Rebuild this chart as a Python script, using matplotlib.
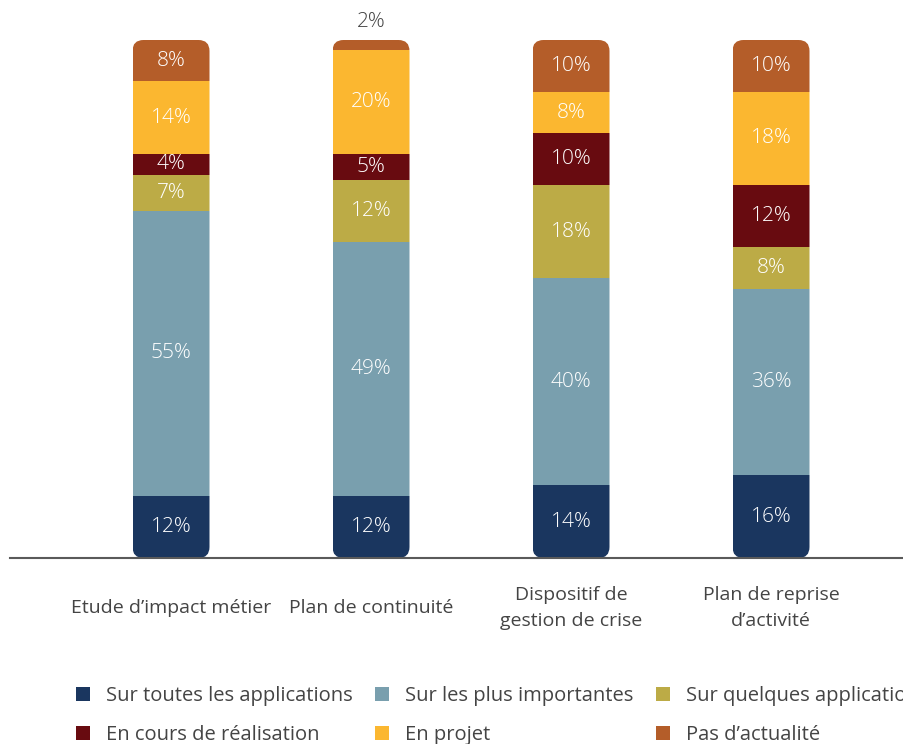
import matplotlib.pyplot as plt
from matplotlib.patches import FancyBboxPatch, Patch

plt.rcParams['font.family'] = ['Open Sans', 'DejaVu Sans']

categories = ["Etude d’impact métier", "Plan de continuité",
              "Dispositif de\ngestion de crise", "Plan de reprise\nd’activité"]
series = ["Sur toutes les applications", "Sur les plus importantes",
          "Sur quelques applications", "En cours de réalisation",
          "En projet", "Pas d’actualité"]
toutes = [12, 12, 14, 16]
importantes = [55, 49, 40, 36]
quelques = [7, 12, 18, 8]
en_cours = [4, 5, 10, 12]
en_projet = [14, 20, 8, 18]
pas_actualite = [8, 2, 10, 10]

values = [toutes, importantes, quelques, en_cours, en_projet, pas_actualite]
colors = ["#1a365f", "#799fae", "#bcab46", "#680b10", "#fbb730", "#b45d29"]

fig = plt.figure(figsize=(9.04, 7.44), dpi=100)
ax = fig.add_axes([10 / 904, 186 / 744, 894 / 904, 518 / 744])

x = list(range(len(categories)))
width = 0.385
ax.set_xlim(-0.805, 3.665)
ax.set_ylim(0, 100)

# rounded outline of each full bar, used to clip its segments
px_x = 200.0
px_y = 5.18
rad = 11 / px_x
outlines = []
for xi in x:
    total = sum(v[xi] for v in values)
    box = FancyBboxPatch((xi - width / 2, 0), width, total,
                         boxstyle=f"round,pad=0,rounding_size={rad}",
                         mutation_aspect=px_x / px_y,
                         facecolor="none", edgecolor="none",
                         transform=ax.transData)
    ax.add_patch(box)
    outlines.append(box)

bottom = [0] * len(categories)
for vals, col in zip(values, colors):
    bars = ax.bar(x, vals, width, bottom=bottom, color=col, linewidth=0)
    for i, (b, v) in enumerate(zip(bars, vals)):
        b.set_clip_path(outlines[i])
        if v >= 4:
            ax.text(x[i], bottom[i] + v / 2, f"{v}%", ha="center", va="center",
                    color="white", fontsize=15, fontweight="light")
        else:
            ax.text(x[i], bottom[i] + v + 1.5, f"{v}%", ha="center", va="bottom",
                    color="#444444", fontsize=15, fontweight="light")
    bottom = [b + v for b, v in zip(bottom, vals)]

ax.axhline(0, color="#5a5a5a", linewidth=1.5, clip_on=False)
for s in ax.spines.values():
    s.set_visible(False)
ax.set_yticks([])
ax.set_xticks(x)
ax.set_xticklabels(categories, fontsize=14, color="#444444", linespacing=1.55)
for lab in ax.get_xticklabels():
    lab.set_verticalalignment("center")
ax.tick_params(axis="x", length=0, pad=36)

# legend filled row by row
handles = [Patch(facecolor=c, edgecolor="none") for c in colors]
order = [0, 3, 1, 4, 2, 5]
fig.legend([handles[i] for i in order], [series[i] for i in order],
           ncol=3, loc="upper left",
           bbox_to_anchor=(66 / 904, 1 - 676 / 744), frameon=False,
           fontsize=14.5, labelcolor="#444444", handlelength=0.7, handleheight=0.7,
           handletextpad=0.8, columnspacing=1.1, labelspacing=0.95, borderpad=0)

fig.savefig("out.png", dpi=100)
